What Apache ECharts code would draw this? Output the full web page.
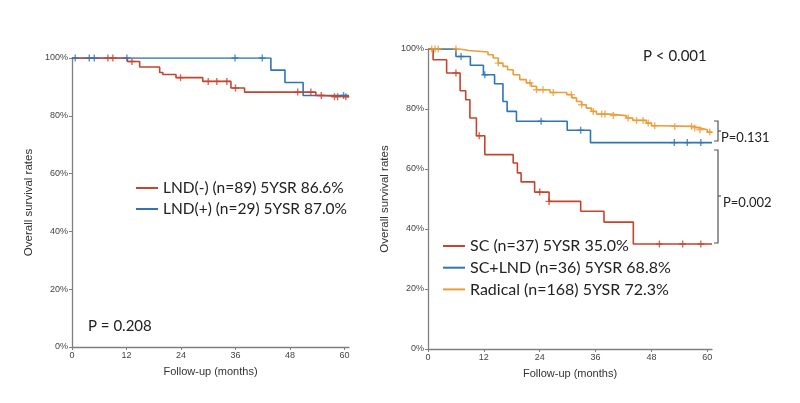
<!DOCTYPE html>
<html lang="en">
<head>
<meta charset="UTF-8">
<title>Overall survival</title>
<script src="https://cdn.jsdelivr.net/npm/echarts@6/dist/echarts.min.js"></script>
<style>
  html, body { margin: 0; padding: 0; background: #fff; }
  #main { width: 800px; height: 403px; }
</style>
</head>
<body>
<div id="main"></div>
<script>
// tick labels
var xTicks = [0, 12, 24, 36, 48, 60];

// left panel: LND(-) / LND(+)
var lndNegT = [0, 12.2, 14.9, 19.3, 20, 22.9, 28.8, 35, 38, 53.7, 55, 61];
var lndNegS = [100, 98.8, 96.9, 95.0, 94.3, 93.2, 91.9, 89.6, 88.2, 87.0, 86.6, 86.6];
var lndNegCens = [7.9, 9.0, 13.2, 23.9, 30, 31.9, 34.1, 36, 49.7, 52.6, 54.9, 57.8, 58.5, 60.3];

var lndPosT = [0, 43.8, 46.9, 50.9, 61];
var lndPosS = [100, 95.8, 91.5, 87.0, 87.0];
var lndPosCens = [0.7, 3.8, 4.9, 12.1, 35.9, 41.9, 59.8];

// right panel: SC / SC+LND / Radical
var scT = [0, 1.1, 4, 6.9, 8.1, 9, 10.4, 12.2, 18.3, 19.2, 20, 22.9, 26, 32.8, 37.8, 44.1, 61];
var scS = [100, 96.4, 92, 86.1, 83.1, 77, 71.1, 64.8, 62, 58.7, 55.7, 52.3, 49.2, 45.9, 42.3, 35.0, 35.0];
var scCens = [6, 11, 24, 26, 49.7, 54.7, 58.6];

var scLndT = [0, 6, 9.1, 11.9, 14.3, 16.1, 17, 19, 29.9, 34.9, 61];
var scLndS = [100, 97.5, 94.6, 91.4, 88.4, 82.5, 79.2, 75.9, 72.9, 68.8, 68.8];
var scLndCens = [7.1, 12.2, 24.3, 32.8, 52.9, 55.7, 58.6];

var radT = [0, 6.9, 8.7, 12.9, 14, 15.1, 16.1, 17.1, 18.3, 19.7, 21.1, 22.2, 23.3, 26.2, 29.8, 30.9,
            31.9, 33, 34, 35.1, 36.2, 39, 42.6, 44, 46.9, 48, 49.8, 56.9, 58.3, 60, 61];
var radS = [100, 99.5, 99, 98.1, 97, 95.3, 94.2, 93.1, 91.4, 89.8, 88.7, 87.6, 86.4, 85.5, 84.8, 83.7,
            82.5, 81.4, 80.3, 79.2, 78.3, 77.8, 77, 76.2, 75.3, 74.4, 74.2, 73.7, 73.1, 72.3, 72.3];
var radCens = [0.8, 1.5, 2.2, 6, 15.1, 21.9, 23.3, 24.7, 26.9, 30.8, 33.0, 35.5, 37.3, 38.0, 39.8,
               43.0, 44.8, 46.2, 47.3, 48.7, 53.0, 56.6, 57.3, 58.4, 60.5];

var RED = '#c4452f', BLUE = '#2e75b6', ORANGE = '#eb9e38';
var cross = 'path://M4,0h2v4h4v2h-4v4h-2v-4h-4v-2h4z';

function pairs(t, s) {
  return t.map(function (v, i) { return [v, s[i]]; });
}
// survival value at time x (step function lookup)
function at(t, s, x) {
  var v = s[0];
  for (var i = 0; i < t.length; i++) { if (t[i] <= x) v = s[i]; }
  return v;
}
function censored(t, s, c) {
  return c.map(function (x) { return [x, at(t, s, x)]; });
}

function kmLine(name, idx, color, t, s) {
  return {
    name: name, type: 'line', step: 'end', xAxisIndex: idx, yAxisIndex: idx,
    showSymbol: false, data: pairs(t, s), color: color,
    lineStyle: { width: 1.6, color: color }
  };
}
function kmMarks(idx, color, t, s, c) {
  return {
    type: 'scatter', xAxisIndex: idx, yAxisIndex: idx, symbol: cross, symbolSize: 7,
    itemStyle: { color: color }, data: censored(t, s, c), z: 3
  };
}

var axisCol = '#7f7f7f';
function xAx(idx) {
  return {
    type: 'value', gridIndex: idx, min: 0, max: 61,
    name: 'Follow-up (months)', nameLocation: 'middle', nameGap: 19,
    nameTextStyle: { fontFamily: 'Liberation Sans', fontSize: 11, color: '#333' },
    axisLine: { lineStyle: { color: axisCol, width: 1.3 } },
    axisTick: { customValues: xTicks, length: 3, lineStyle: { color: axisCol } },
    axisLabel: { customValues: xTicks, fontFamily: 'Liberation Sans', fontSize: 9, color: '#444', margin: 4 },
    splitLine: { show: false }
  };
}
function yAx(idx) {
  return {
    type: 'value', gridIndex: idx, min: 0, max: 100, interval: 20,
    name: 'Overall survival rates', nameLocation: 'middle', nameGap: 37,
    nameTextStyle: { fontFamily: 'Liberation Sans', fontSize: 11.5, color: '#333' },
    axisLine: { show: true, lineStyle: { color: axisCol, width: 1.3 } },
    axisTick: { show: true, length: 3, lineStyle: { color: axisCol } },
    axisLabel: { formatter: '{value}%', fontFamily: 'Liberation Sans', fontSize: 9, color: '#444', margin: 4 },
    splitLine: { show: false }
  };
}

var pText = { fontFamily: 'Lato', fill: '#222' };
function bracket(y1, y2, ym) {
  return [
    { type: 'polyline', shape: { points: [[714, y1], [718, y1], [718, y2], [714, y2]] },
      style: { stroke: '#555', lineWidth: 1.2, fill: null } },
    { type: 'line', shape: { x1: 718, y1: ym, x2: 721, y2: ym },
      style: { stroke: '#555', lineWidth: 1.2 } }
  ];
}

var chart = echarts.init(document.getElementById('main'));
chart.setOption({
  animation: false,
  grid: [
    { left: 72, top: 58, width: 277, height: 289 },
    { left: 428, top: 49, width: 284, height: 300 }
  ],
  xAxis: [xAx(0), xAx(1)],
  yAxis: [yAx(0), yAx(1)],
  legend: [
    { left: 136, top: 180, padding: 0, orient: 'vertical', icon: 'rect', itemWidth: 22, itemHeight: 2, itemGap: 5,
      data: ['LND(-) (n=89) 5YSR 86.6%', 'LND(+) (n=29) 5YSR 87.0%'],
      textStyle: { fontFamily: 'Lato', fontSize: 15.5, color: '#222' } },
    { left: 443, top: 238, padding: 0, orient: 'vertical', icon: 'rect', itemWidth: 22, itemHeight: 2, itemGap: 5.7,
      data: ['SC (n=37) 5YSR 35.0%', 'SC+LND (n=36) 5YSR 68.8%', 'Radical (n=168) 5YSR 72.3%'],
      textStyle: { fontFamily: 'Lato', fontSize: 16, color: '#222' } }
  ],
  series: [
    kmLine('LND(+) (n=29) 5YSR 87.0%', 0, BLUE, lndPosT, lndPosS),
    kmLine('LND(-) (n=89) 5YSR 86.6%', 0, RED, lndNegT, lndNegS),
    kmMarks(0, BLUE, lndPosT, lndPosS, lndPosCens),
    kmMarks(0, RED, lndNegT, lndNegS, lndNegCens),
    kmLine('Radical (n=168) 5YSR 72.3%', 1, ORANGE, radT, radS),
    kmLine('SC+LND (n=36) 5YSR 68.8%', 1, BLUE, scLndT, scLndS),
    kmLine('SC (n=37) 5YSR 35.0%', 1, RED, scT, scS),
    kmMarks(1, ORANGE, radT, radS, radCens),
    kmMarks(1, BLUE, scLndT, scLndS, scLndCens),
    kmMarks(1, RED, scT, scS, scCens)
  ],
  graphic: [
    { type: 'text', left: 88, top: 319, style: Object.assign({ text: 'P = 0.208', fontSize: 15 }, pText) },
    { type: 'text', left: 643, top: 49, style: Object.assign({ text: 'P < 0.001', fontSize: 15 }, pText) },
    { type: 'text', left: 721, top: 131, style: Object.assign({ text: 'P=0.131', fontSize: 13 }, pText) },
    { type: 'text', left: 723, top: 196, style: Object.assign({ text: 'P=0.002', fontSize: 13 }, pText) }
  ].concat(bracket(121, 141, 131), bracket(150, 243, 196))
});
</script>
</body>
</html>
